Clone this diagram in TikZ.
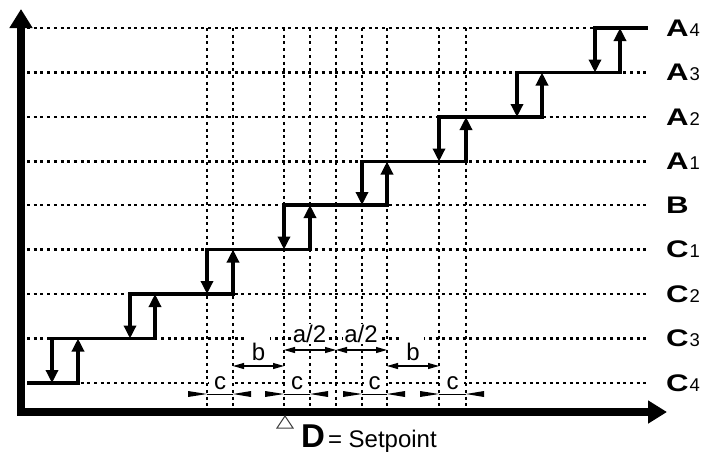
\documentclass[tikz,border=0pt]{standalone}
\usepackage{fontspec}
\setmainfont{Liberation Sans}
\usetikzlibrary{arrows.meta}
\newcommand\lvlab[2]{\scalebox{1.3}[1]{\fontsize{24}{24}\selectfont\bfseries #1}\hspace{1pt}{\fontsize{18.5}{18.5}\selectfont #2}}
\begin{document}
\begin{tikzpicture}[x=1pt,y=-1pt,
  dots/.style={line width=2.6pt, dash pattern=on 3pt off 3.7pt},
  stair/.style={line width=3.3pt, line cap=rect},
  harrow/.style={line width=3.3pt, -{Triangle[length=13pt,width=12pt]}},
  axisline/.style={line width=7.5pt, line join=miter, {Triangle[length=19pt,width=22pt]}-{Triangle[length=19pt,width=22pt]}},
  dim/.style={line width=1.1pt, {Triangle[length=11pt,width=6pt]}-{Triangle[length=11pt,width=6pt]}},
  dimlabel/.style={fill=white, inner sep=1pt, font=\fontsize{24}{24}\selectfont},
  lvl/.style={anchor=west, inner sep=0pt},
]
\useasboundingbox (0,0) rectangle (710,451);
% horizontal dotted level lines
\foreach \y in {383,338.5,294,249.5,205,161.5,117,72.5,28}
  \draw[dots] (27,\y) -- (647,\y);
% vertical dotted lines
\foreach \x in {207,233,284,310,336,362,387,439,466}
  \draw[dots] (\x,28) -- (\x,409);
% staircase horizontals
\foreach \a/\b/\y in {29/78/383, 52/155/338.5, 130/233/294, 207/310/249.5, 284/387/205,
                      362/466/161.5, 439/542/117, 517/620/72.5, 595/646/28}
  \draw[stair] (\a,\y) -- (\b,\y);
% hysteresis arrows
\foreach \d/\u/\ya/\yb in {52/78/383/338.5, 130/155/338.5/294, 207/233/294/249.5,
     284/310/249.5/205, 362/387/205/161.5, 439/466/161.5/117, 517/542/117/72.5, 595/620/72.5/28}
{
  \draw[harrow] (\d,\yb) -- (\d,\ya);
  \draw[harrow] (\u,\ya) -- (\u,\yb);
}
% level labels
\node[lvl] (A4) at (666,28)    {\lvlab{A}{4}};
\node[lvl] (A3) at (666,72.5)  {\lvlab{A}{3}};
\node[lvl] (A2) at (666,117)   {\lvlab{A}{2}};
\node[lvl] (A1) at (666,161.5) {\lvlab{A}{1}};
\node[lvl] (B)  at (666,205)   {\scalebox{1.3}[1]{\fontsize{24}{24}\selectfont\bfseries B}};
\node[lvl] (C1) at (666,249.5) {\lvlab{C}{1}};
\node[lvl] (C2) at (666,294)   {\lvlab{C}{2}};
\node[lvl] (C3) at (666,338.5) {\lvlab{C}{3}};
\node[lvl] (C4) at (666,383)   {\lvlab{C}{4}};
% c dimensions
\foreach \a/\b [count=\n] in {207/233, 284/310, 362/387, 439/466}
{
  \node[dimlabel, minimum width=22pt] (c\n) at ({(\a+\b)/2},383) {c};
  \draw[line width=1pt] (\a,394) -- (\b,394);
  \fill (\a-19,391) -- (\a,394) -- (\a-19,397) -- cycle;
  \fill (\b+18,391) -- (\b,394) -- (\b+18,397) -- cycle;
}
% b dimensions
\foreach \a/\b [count=\n] in {233/284, 387/439}
{
  \node[dimlabel, minimum width=22pt, minimum height=31pt] (b\n) at ({(\a+\b)/2},352) {b};
  \draw[dim] (\a,366) -- (\b,366);
}
% a/2 dimensions
\foreach \a/\b [count=\n] in {284/336, 336/387}
{
  \node[dimlabel] (h\n) at ({(\a+\b)/2-0.5},334) {a/2};
  \draw[dim] (\a,350) -- (\b,350);
}
% axes
\draw[axisline] (21,9) -- (21,412) -- (667,412);
% setpoint marker
\draw[line width=1pt, draw=black!75, line join=miter] (285,416) -- (277,428) -- (293,428) -- cycle;
\node[anchor=base west, inner sep=1pt, font=\fontsize{24}{24}\selectfont] (D) at (300,447)
  {{\fontsize{33}{33}\selectfont\bfseries D}\hspace{3pt}= Setpoint};
\end{tikzpicture}
\end{document}
